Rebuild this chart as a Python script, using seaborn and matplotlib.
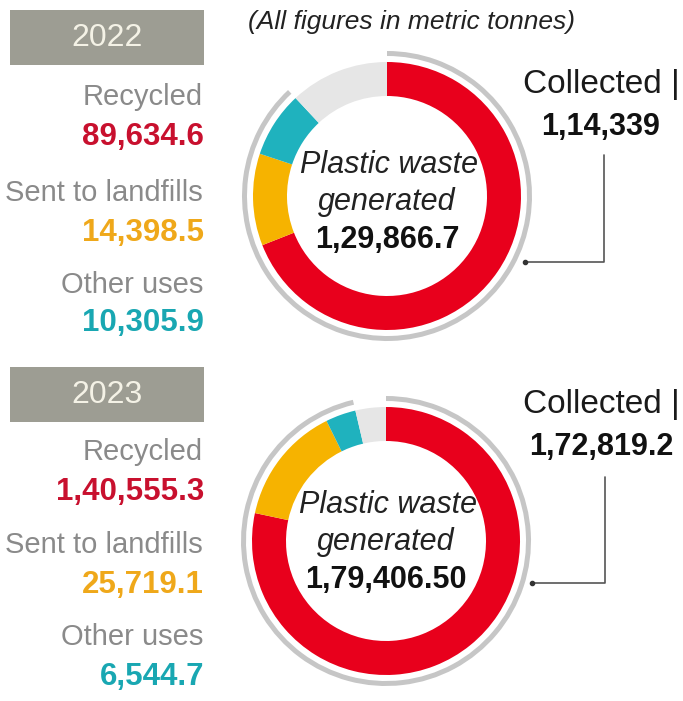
import matplotlib
matplotlib.use("Agg")
import matplotlib.pyplot as plt
import seaborn as sns

# values in metric tonnes
years = ["2022", "2023"]
generated = [129866.7, 179406.50]
collected = [114339, 172819.2]
recycled = [89634.6, 140555.3]
landfill = [14398.5, 25719.1]
other_uses = [10305.9, 6544.7]

# printed strings (Indian digit grouping as in the source)
generated_txt = ["1,29,866.7", "1,79,406.50"]
collected_txt = ["1,14,339", "1,72,819.2"]
recycled_txt = ["89,634.6", "1,40,555.3"]
landfill_txt = ["14,398.5", "25,719.1"]
other_txt = ["10,305.9", "6,544.7"]

sns.set_theme(style="white")
plt.rcParams["font.family"] = ["Liberation Sans Narrow", "Liberation Sans", "DejaVu Sans"]

RED, ORANGE, TEAL, LIGHT = "#e8001c", "#f6b300", "#1fb2be", "#e6e6e6"
RED_T, ORANGE_T, TEAL_T = "#c8102e", "#efa81a", "#19a7b2"
ARC, LABEL_GREY, BOX = "#c6c6c6", "#8a8a8a", "#9d9d93"

W, H = 683, 701
fig = plt.figure(figsize=(W / 100, H / 100), dpi=100)
ax = fig.add_axes([0, 0, 1, 1])


def Y(y):
    return H - y


# layout per panel (pixel positions measured from the top)
centers = [(387, 196), (386, 541)]
box_top = [10, 367]
label_rows = [(97, 137, 193, 233, 285, 323), (452, 492, 545, 585, 637, 677)]
center_rows = [(165, 202, 240), (505, 542, 580)]
coll_rows = [(85, 127), (405, 447)]
connector = [(604, 155, 262, 525), (605, 477, 583, 532)]

for i, yr in enumerate(years):
    cx, cy = centers[i]
    rest = generated[i] - recycled[i] - landfill[i] - other_uses[i]
    ax.pie([recycled[i], landfill[i], other_uses[i], rest],
           colors=[RED, ORANGE, TEAL, LIGHT], startangle=90, counterclock=False,
           center=(cx, Y(cy)), radius=134,
           wedgeprops=dict(width=34, linewidth=0))
    # outer arc = collected share of generated
    ax.pie([collected[i], generated[i] - collected[i]],
           colors=[ARC, "none"], startangle=90, counterclock=False,
           center=(cx, Y(cy)), radius=145,
           wedgeprops=dict(width=5, linewidth=0))

    # year box
    bt = box_top[i]
    ax.add_patch(plt.Rectangle((10, Y(bt + 55)), 194, 55, color=BOX, lw=0))
    ax.text(107, Y(bt + 28), yr, ha="center", va="center", fontsize=23,
            color="#f4f2e6")

    r = label_rows[i]
    ax.text(203, Y(r[0]), "Recycled", ha="right", va="center", fontsize=21, color=LABEL_GREY)
    ax.text(204, Y(r[1]), recycled_txt[i], ha="right", va="center", fontsize=22.5,
            fontweight="bold", color=RED_T)
    ax.text(203, Y(r[2]), "Sent to landfills", ha="right", va="center", fontsize=21, color=LABEL_GREY)
    ax.text(204, Y(r[3]), landfill_txt[i], ha="right", va="center", fontsize=22.5,
            fontweight="bold", color=ORANGE_T)
    ax.text(203, Y(r[4]), "Other uses", ha="right", va="center", fontsize=21, color=LABEL_GREY)
    ax.text(204, Y(r[5]), other_txt[i], ha="right", va="center", fontsize=22.5,
            fontweight="bold", color=TEAL_T)

    c = center_rows[i]
    ax.text(cx + 2, Y(c[0]), "Plastic waste", ha="center", va="center", fontsize=22,
            fontstyle="italic", color="#222222")
    ax.text(cx, Y(c[1]), "generated", ha="center", va="center", fontsize=22,
            fontstyle="italic", color="#222222")
    ax.text(cx, Y(c[2]), generated_txt[i], ha="center", va="center", fontsize=22,
            fontweight="bold", color="#111111")

    k = coll_rows[i]
    ax.text(601, Y(k[0]), "Collected |", ha="center", va="center", fontsize=24, color="#1a1a1a")
    ax.text(601, Y(k[1]), collected_txt[i], ha="center", va="center", fontsize=22,
            fontweight="bold", color="#111111")

    lx, ly0, ly1, lx1 = connector[i]
    ax.plot([lx, lx, lx1], [Y(ly0), Y(ly1), Y(ly1)], color="#555555", lw=1.2)
    ax.plot([lx1], [Y(ly1)], "o", color="#333333", ms=3)

ax.text(411, Y(22), "(All figures in metric tonnes)", ha="center", va="center",
        fontsize=19, fontstyle="italic", color="#222222")

ax.set_xlim(0, W)
ax.set_ylim(0, H)
ax.set_aspect("equal")
ax.axis("off")
fig.savefig("out.png", dpi=100, facecolor="white")
